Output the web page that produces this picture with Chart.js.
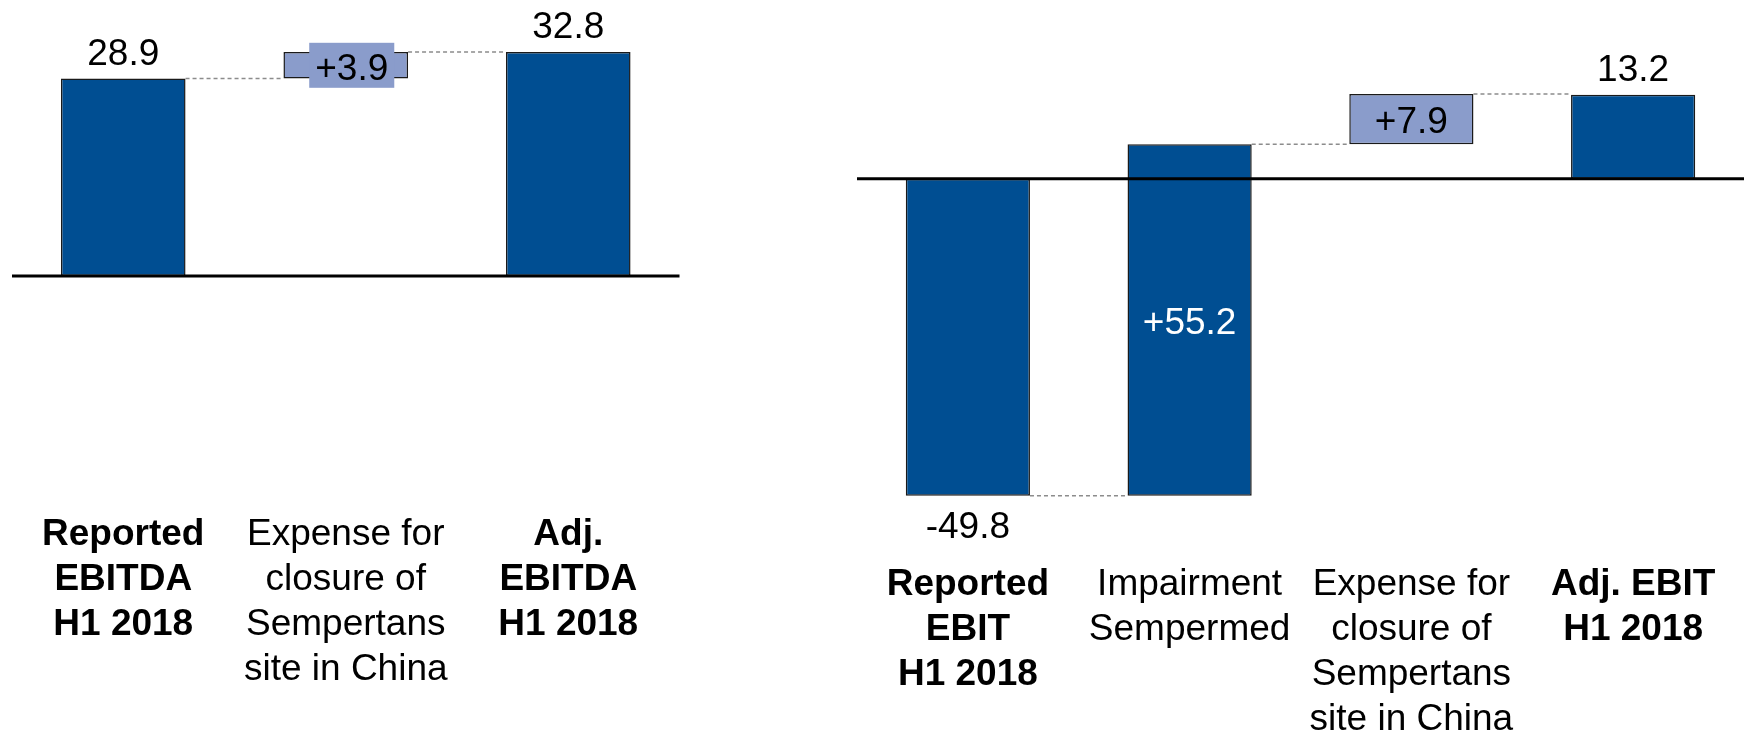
<html>
<head>
    <script src="https://cdn.jsdelivr.net/npm/chart.js@4.4.0/dist/chart.umd.min.js"></script>
    <style>
        body { margin: 0; background: #fff; }
        .box { position: absolute; top: 0; height: 733px; }
    </style>
</head>
<body>
<div class="box" style="left:0;width:700px"><canvas id="ebitdaChart"></canvas></div>
<div class="box" style="left:845px;width:899px"><canvas id="ebitChart"></canvas></div>
<script>
// Data
const ebitdaLabels = [["Reported", "EBITDA", "H1 2018"], ["Expense for", "closure of", "Sempertans", "site in China"], ["Adj.", "EBITDA", "H1 2018"]];
const ebitdaValues = [28.9, 3.9, 32.8];
const ebitdaKinds = ["total", "delta", "total"];

const ebitLabels = [["Reported", "EBIT", "H1 2018"], ["Impairment", "Sempermed"], ["Expense for", "closure of", "Sempertans", "site in China"], ["Adj. EBIT", "H1 2018"]];
const ebitValues = [-49.8, 55.2, 7.9, 13.2];
const ebitKinds = ["total", "delta", "delta", "total"];

// Styles
const DARK = "#004e92";
const LIGHT = "#8a9ccb";
const FONT = "'Liberation Sans', Arial, sans-serif";
const FONT_SIZE = 37;
const ebitdaFill = [DARK, LIGHT, DARK];
const ebitFill = [DARK, DARK, LIGHT, DARK];

Chart.defaults.font.family = FONT;

// turn totals + deltas into floating bar ranges
function waterfall(values, kinds) {
    let run = 0;
    return values.map((v, i) => {
        if (kinds[i] === "total") { run = v; return [0, v]; }
        const r = [run, run + v];
        run += v;
        return r;
    });
}

function fmt(v, kind) {
    const s = v.toFixed(1);
    return kind === "delta" && v > 0 ? "+" + s : s;
}

// zero line, dashed connectors and value labels
const waterfallPlugin = {
    id: "waterfall",
    beforeDatasetsDraw(chart) {
        const { ctx, scales: { y } } = chart;
        const bars = chart.getDatasetMeta(0).data;
        const ranges = chart.data.datasets[0].data;
        ctx.save();
        ctx.strokeStyle = "#8c8c8c";
        ctx.lineWidth = 1.5;
        ctx.setLineDash([4, 3]);
        for (let i = 0; i < bars.length - 1; i++) {
            const py = y.getPixelForValue(ranges[i][1]);
            ctx.beginPath();
            ctx.moveTo(bars[i].x + bars[i].width / 2, py);
            ctx.lineTo(bars[i + 1].x - bars[i + 1].width / 2, py);
            ctx.stroke();
        }
        ctx.restore();
    },
    afterDatasetsDraw(chart, args, opts) {
        const { ctx, chartArea, scales: { y } } = chart;
        const bars = chart.getDatasetMeta(0).data;
        ctx.save();
        // zero line
        const zy = y.getPixelForValue(0);
        ctx.strokeStyle = "#000";
        ctx.lineWidth = 3;
        ctx.beginPath();
        ctx.moveTo(chartArea.left, zy);
        ctx.lineTo(chartArea.right, zy);
        ctx.stroke();

        ctx.font = FONT_SIZE + "px " + FONT;
        ctx.textAlign = "center";
        bars.forEach((bar, i) => {
            const v = opts.values[i], kind = opts.kinds[i];
            const top = Math.min(bar.y, bar.base), bottom = Math.max(bar.y, bar.base);
            const text = fmt(v, kind);
            if (kind === "total") {
                ctx.fillStyle = "#000";
                ctx.textBaseline = "alphabetic";
                if (v >= 0) ctx.fillText(text, bar.x, top - 14);
                else ctx.fillText(text, bar.x, bottom + 42);
            } else {
                const cy = (top + bottom) / 2;
                let tx = bar.x;
                if (bottom - top < 40) {
                    // label taller than the box: light patch behind it
                    tx = bar.x + 6;
                    const w = ctx.measureText(text).width + 12;
                    ctx.fillStyle = opts.fill[i];
                    ctx.fillRect(tx - w / 2, cy - 22.5, w, 45);
                }
                ctx.fillStyle = opts.fill[i] === DARK ? "#fff" : "#000";
                ctx.textBaseline = "middle";
                ctx.fillText(text, tx, cy + 4);
            }
        });
        ctx.restore();
    }
};

function makeChart(id, labels, values, kinds, fill, yMin, yMax, axisHeight, pad) {
    return new Chart(document.getElementById(id), {
        type: "bar",
        data: {
            labels: labels,
            datasets: [{
                data: waterfall(values, kinds),
                backgroundColor: fill,
                borderColor: "#1a1a1a",
                borderWidth: 1.5,
                borderSkipped: false,
                barPercentage: 0.56,
                categoryPercentage: 1
            }]
        },
        options: {
            responsive: true,
            maintainAspectRatio: false,
            animation: false,
            layout: { padding: pad },
            plugins: {
                legend: { display: false },
                tooltip: { enabled: false },
                waterfall: { values: values, kinds: kinds, fill: fill }
            },
            scales: {
                x: {
                    border: { display: false },
                    grid: { display: false, drawTicks: false },
                    ticks: {
                        color: "#000",
                        padding: 22,
                        maxRotation: 0,
                        minRotation: 0,
                        autoSkip: false,
                        font: (c) => ({
                            size: FONT_SIZE,
                            lineHeight: 1.22,
                            weight: kinds[c.index] === "total" ? "bold" : "normal"
                        })
                    },
                    afterFit: (scale) => { scale.height = axisHeight; }
                },
                y: { display: false, min: yMin, max: yMax }
            }
        },
        plugins: [waterfallPlugin]
    });
}

// left: zero at y=276, 6.83 px per unit, plot bottom at 490
makeChart("ebitdaChart", ebitdaLabels, ebitdaValues, ebitdaKinds, ebitdaFill,
    -31.33, 40.41, 243, { left: 12, right: 20.5, top: 0, bottom: 0 });
// right: zero at y=178.7, 6.366 px per unit, plot bottom at 540
makeChart("ebitChart", ebitLabels, ebitValues, ebitKinds, ebitFill,
    -56.76, 28.07, 193, { left: 12, right: 0, top: 0, bottom: 0 });
</script>
</body>
</html>
